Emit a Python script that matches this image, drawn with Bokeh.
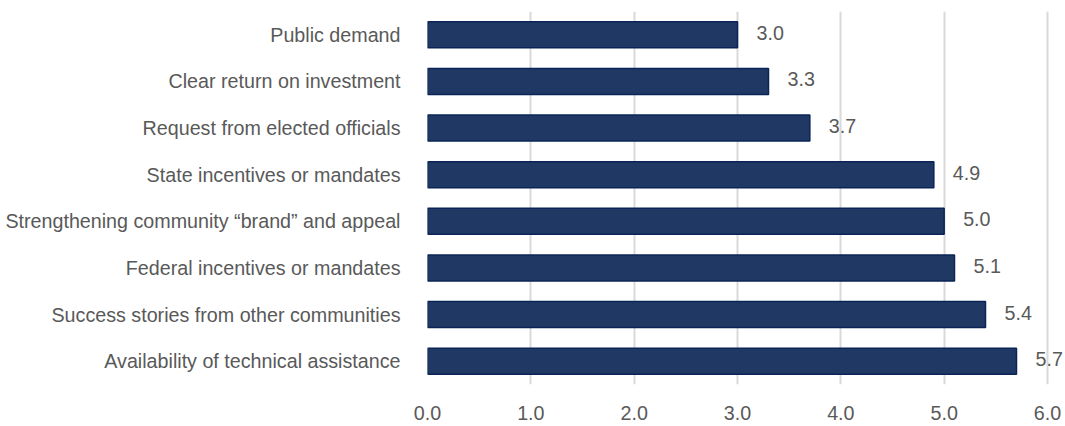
from bokeh.plotting import figure
from bokeh.models import ColumnDataSource, FixedTicker, FactorRange, Range1d, CustomJSTickFormatter
from bokeh.core.properties import value
from bokeh.embed import file_html
from bokeh.resources import INLINE

categories = [
    "Public demand",
    "Clear return on investment",
    "Request from elected officials",
    "State incentives or mandates",
    "Strengthening community \u201cbrand\u201d and appeal",
    "Federal incentives or mandates",
    "Success stories from other communities",
    "Availability of technical assistance",
]
values = [3.0, 3.3, 3.7, 4.9, 5.0, 5.1, 5.4, 5.7]
x_ticks = [0, 1, 2, 3, 4, 5, 6]

FONT = "'Liberation Sans', Arial, sans-serif"
TXT = "#595959"
FS = "19.7px"

# frame runs 18px past the 6.0 gridline so the last value label is not clipped
FRAME_W = 638
X_END = 6.0 * FRAME_W / 620

src = ColumnDataSource(dict(
    cat=categories,
    val=values,
    lab=[f"{v:.1f}" for v in values],
))

p = figure(
    frame_width=FRAME_W, frame_height=373,
    y_range=FactorRange(factors=categories[::-1], range_padding=0),
    x_range=Range1d(0, X_END),
    output_backend="svg", toolbar_location=None,
    min_border_left=427, min_border_right=0, min_border_top=11, min_border_bottom=42,
)
p.outline_line_color = None
p.background_fill_color = "white"

p.hbar(y="cat", right="val", left=0, height=0.56, source=src,
       fill_color="#203864", line_color="#0b2457", line_width=1.5)

p.text(x="val", y="cat", text="lab", source=src, x_offset=19, y_offset=-2,
       text_font=value(FONT), text_font_size=FS, text_color=TXT,
       text_align="left", text_baseline="middle")

p.xaxis.ticker = FixedTicker(ticks=x_ticks)
p.xaxis.formatter = CustomJSTickFormatter(code="return tick.toFixed(1);")
p.xaxis.axis_line_color = None
p.xaxis.major_tick_line_color = None
p.xaxis.minor_tick_line_color = None
p.xaxis.major_label_text_font = FONT
p.xaxis.major_label_text_font_size = FS
p.xaxis.major_label_text_color = TXT
p.xaxis.major_label_standoff = 15

p.yaxis.axis_line_color = None
p.yaxis.major_tick_line_color = None
p.yaxis.minor_tick_line_color = None
p.yaxis.major_label_text_font = FONT
p.yaxis.major_label_text_font_size = FS
p.yaxis.major_label_text_color = TXT
p.yaxis.major_label_standoff = 21

p.ygrid.grid_line_color = None
p.xgrid.grid_line_color = "#d9d9d9"
p.xgrid.grid_line_width = 2

open("out.html", "w").write(file_html(p, INLINE))
